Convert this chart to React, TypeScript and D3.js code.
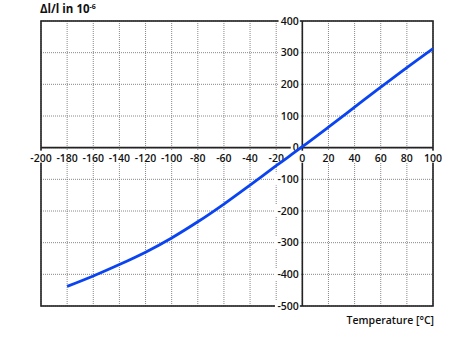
import React from "react";
import * as d3 from "d3";

const temps = [-180, -160, -140, -120, -100, -80, -60, -40, -20, 0, 20, 40, 60, 80, 100];
const expansion = [-438, -405, -369, -330, -285, -234, -178, -118, -57, 3, 65, 128, 191, 253, 313];
const xTicks = [-200, -180, -160, -140, -120, -100, -80, -60, -40, -20, 0, 20, 40, 60, 80, 100];
const yTicks = [400, 300, 200, 100, 0, -100, -200, -300, -400, -500];

const W = 457;
const H = 355;
const FONT = "'Open Sans', 'Liberation Sans', sans-serif";

function textWidth(s: string, size: number) {
  let w = 0;
  for (const c of s) w += c === "-" ? 0.34 * size : 0.58 * size;
  return w;
}

export default function App() {
  const x = d3.scaleLinear().domain([-200, 100]).range([41, 433]);
  const y = d3.scaleLinear().domain([-500, 400]).range([306, 21]);
  const data = temps.map((t, i) => [t, expansion[i]] as [number, number]);
  const line = d3
    .line<[number, number]>()
    .x((d) => x(d[0]))
    .y((d) => y(d[1]))
    .curve(d3.curveCatmullRom.alpha(0.5));

  const fs = 10.5;
  const axisColor = "#222";
  const gridColor = "#7a7a7a";

  return (
    <svg
      width={W}
      height={H}
      style={{ position: "absolute", left: 0, top: 0, background: "#fff" }}
      fontFamily={FONT}
    >
      <rect x={0} y={0} width={W} height={H} fill="#fff" />
      {/* grid */}
      {xTicks.map((t) => (
        <line
          key={"gx" + t}
          x1={x(t)}
          x2={x(t)}
          y1={y(400)}
          y2={y(-500)}
          stroke={gridColor}
          strokeWidth={0.9}
          strokeDasharray="1,1"
        />
      ))}
      {yTicks.map((t) => (
        <line
          key={"gy" + t}
          x1={x(-200)}
          x2={x(100)}
          y1={y(t)}
          y2={y(t)}
          stroke={gridColor}
          strokeWidth={0.9}
          strokeDasharray="1,1"
        />
      ))}
      {/* border */}
      <rect
        x={x(-200)}
        y={y(400)}
        width={x(100) - x(-200)}
        height={y(-500) - y(400)}
        fill="none"
        stroke={axisColor}
        strokeWidth={1.6}
      />
      {/* axes */}
      <line x1={x(-200)} x2={x(100)} y1={y(0)} y2={y(0)} stroke={axisColor} strokeWidth={1.6} />
      <line x1={x(0)} x2={x(0)} y1={y(400)} y2={y(-500)} stroke={axisColor} strokeWidth={1.6} />
      {/* x tick labels */}
      {xTicks.map((t) => {
        const s = String(t);
        const w = textWidth(s, fs);
        return (
          <g key={"xl" + t}>
            <rect x={x(t) - w / 2 - 1} y={y(0) + 3} width={w + 2} height={12} fill="#fff" />
            <text
              x={x(t)}
              y={y(0) + 14}
              textAnchor="middle"
              fontSize={fs}
              fontWeight={600}
              fill="#111"
            >
              {s}
            </text>
          </g>
        );
      })}
      {/* y tick labels */}
      {yTicks.map((t) => {
        const s = String(t);
        const w = textWidth(s, fs);
        const xr = x(0) - 3.5;
        return (
          <g key={"yl" + t}>
            <rect x={xr - w - 2} y={y(t) - 6} width={w + 3} height={12} fill="#fff" />
            <text
              x={xr}
              y={y(t)}
              dy="0.36em"
              textAnchor="end"
              fontSize={fs}
              fontWeight={600}
              fill="#111"
            >
              {s}
            </text>
          </g>
        );
      })}
      {/* curve */}
      <path d={line(data) || ""} fill="none" stroke="#0a44f2" strokeWidth={2.8} strokeLinecap="butt" />
      {/* titles */}
      <text x={40} y={13} fontSize={11.5} fontWeight={700} fill="#111">
        Δl/l in 10
        <tspan fontSize={7} dy={-4}>-6</tspan>
      </text>
      <text x={434} y={324} textAnchor="end" fontSize={10.5} fontWeight={600} fill="#111">
        Temperature [°C]
      </text>
    </svg>
  );
}
